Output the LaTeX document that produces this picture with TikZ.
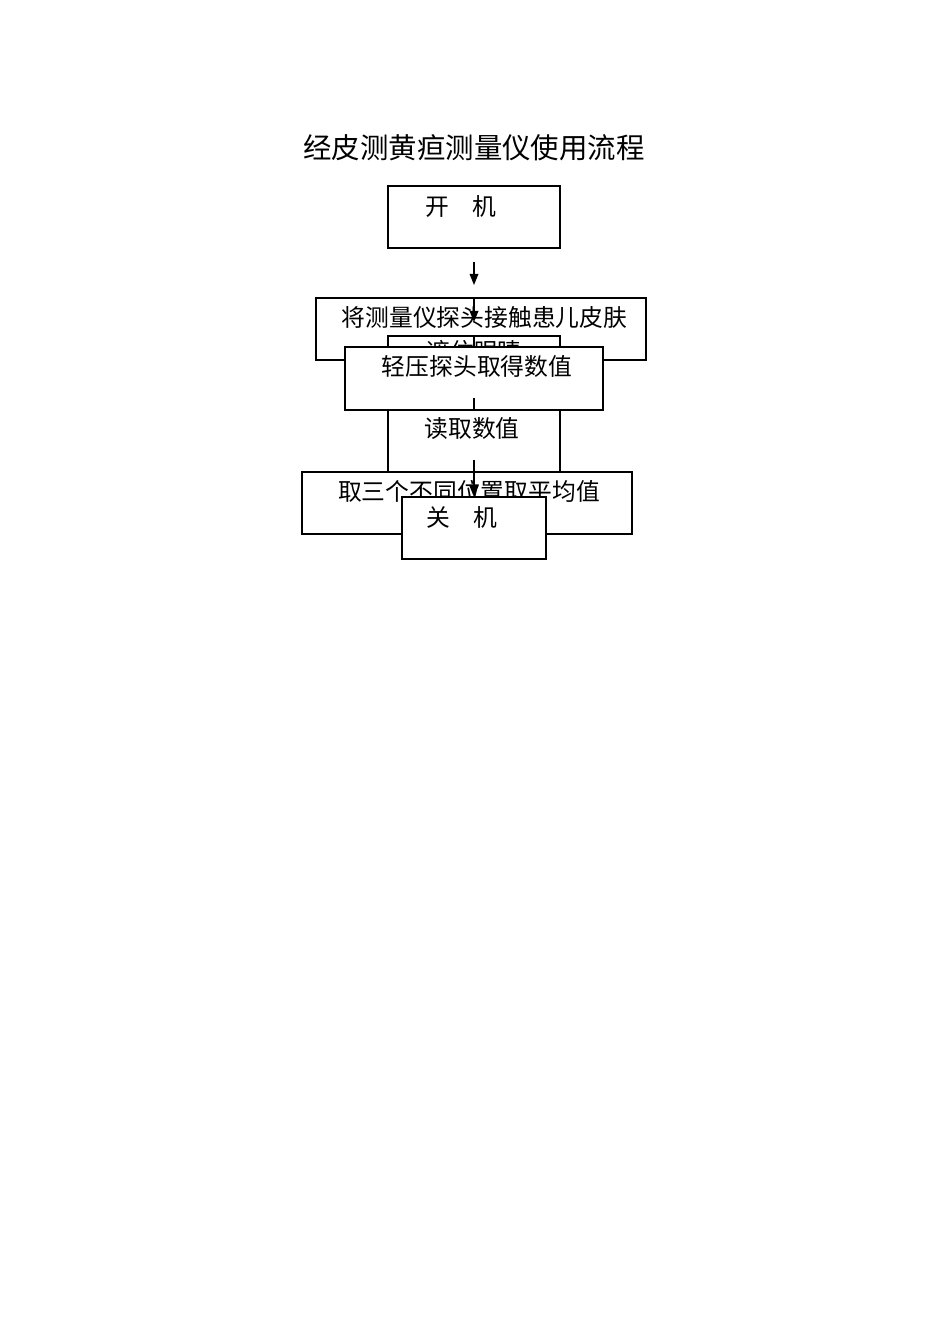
\documentclass[tikz,border=0pt]{standalone}
\usepackage{fontspec}
\newfontfamily\cjk{Noto Sans CJK SC}
\usetikzlibrary{arrows.meta}
\def\u{0.6262pt}
\begin{document}
\begin{tikzpicture}[x=0.6262pt,y=-0.6262pt,
  box/.style={draw, line width=0.8pt, fill=white, inner sep=0pt},
  txt/.style={font=\cjk\fontsize{14.9}{18}\selectfont, inner sep=0pt},
  ttl/.style={font=\cjk\fontsize{17.8}{21}\selectfont, inner sep=0pt},
  arr/.style={line width=0.8pt, -{Triangle[length=7pt,width=5.5pt]}},
  ln/.style={line width=0.8pt}]
\fill[white] (0,0) rectangle (950,1344);
\useasboundingbox (0,0) rectangle (950,1344);

\node[ttl] (title) at (474,148) {经皮测黄疸测量仪使用流程};

% box A
\node[box, minimum width=172*\u, minimum height=62*\u] (A) at (474,217) {};
\node[txt] (tA) at (461,206) {开　机};

\coordinate (a1s) at (474,262);
\coordinate (a1e) at (474,285);
\draw[arr] (a1s) -- (a1e);

% box B
\node[box, minimum width=330*\u, minimum height=62*\u] (B) at (481,329) {};
\node[txt] (tB) at (484.5,317) {将测量仪探头接触患儿皮肤};

\coordinate (a2s) at (474,298);
\coordinate (a2e) at (474,322);
\draw[arr] (a2s) -- (a2e);

% box C (mostly hidden)
\node[box, minimum width=172*\u, minimum height=62*\u] (C) at (474,367) {};
\node[txt] (tC) at (474,351) {遮住眼睛};
\coordinate (l3s) at (474,336);
\coordinate (l3e) at (474,347);
\draw[ln] (l3s) -- (l3e);

% box E
\node[box, minimum width=172*\u, minimum height=62*\u] (E) at (474,441) {};
\node[txt] (tE) at (472,428) {读取数值};

% box D on top
\node[box, minimum width=258*\u, minimum height=63*\u] (D) at (474,378.5) {};
\node[txt] (tD) at (477,366) {轻压探头取得数值};

\coordinate (l4s) at (474,398);
\coordinate (l4e) at (474,410);
\draw[ln] (l4s) -- (l4e);

% box F
\node[box, minimum width=330*\u, minimum height=62*\u] (F) at (467,503) {};
\node[txt] (tF) at (469,491) {取三个不同位置取平均值};

\coordinate (a5s) at (474,460);
\coordinate (a5e) at (474,497);
\draw[arr] (a5s) -- (a5e);

% box G
\node[box, minimum width=144*\u, minimum height=62*\u] (G) at (474,528) {};
\node[txt] (tG) at (462,517) {关　机};
\end{tikzpicture}
\end{document}
